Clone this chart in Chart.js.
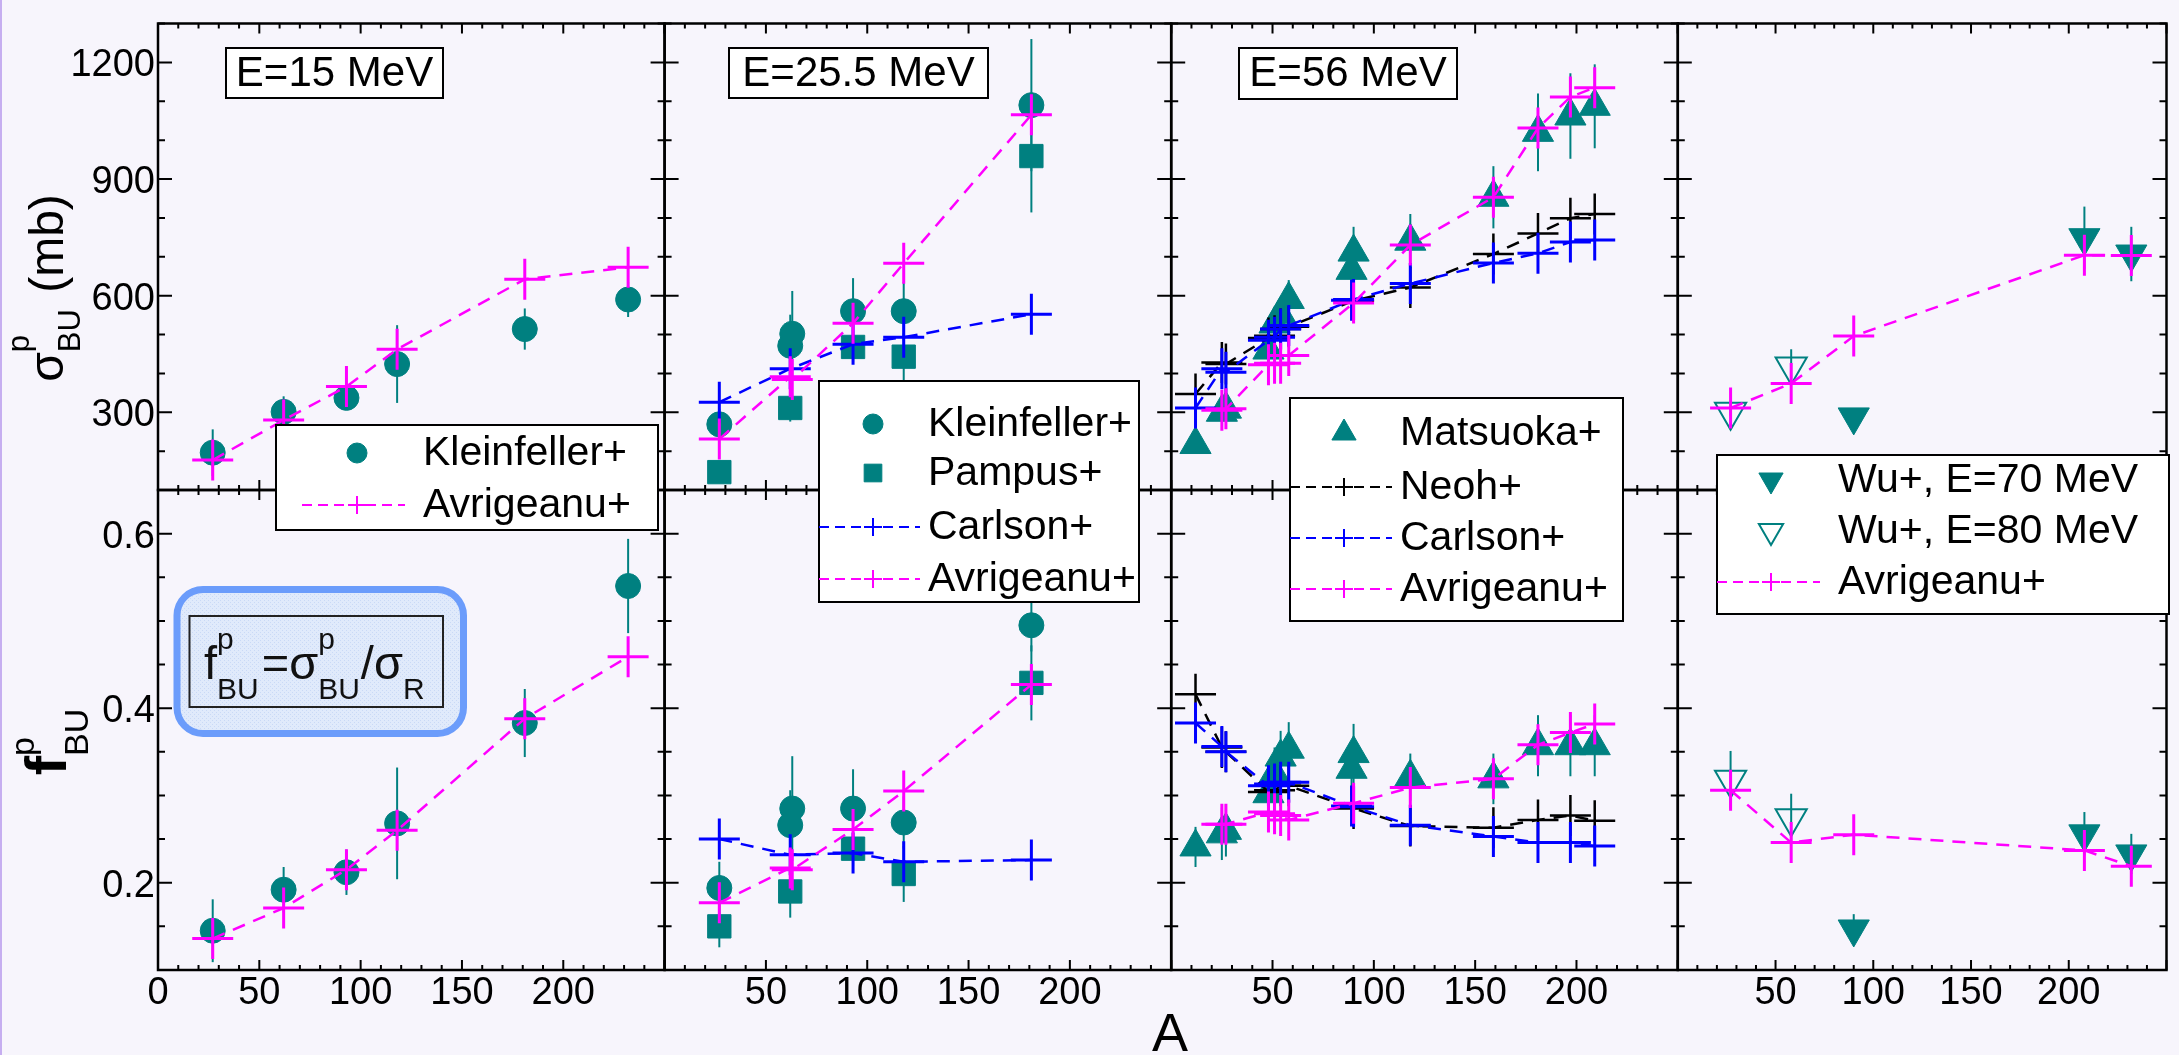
<!DOCTYPE html>
<html>
<head>
<meta charset="utf-8">
<title>Proton breakup cross sections</title>
<script src="https://cdn.jsdelivr.net/npm/chart.js@4.4.1/dist/chart.umd.min.js"></script>
<style>
  html, body { margin: 0; padding: 0; background: #f7f5fc; overflow: hidden; }
  #wrap { position: relative; width: 2190px; height: 1055px; }
  #wrap canvas { position: absolute; left: 0; top: 0; }
  #edge { position: absolute; left: 0; top: 0; width: 2px; height: 1055px; background: #c6aef0; }
</style>
</head>
<body>
<div id="wrap">
  <canvas id="c5" width="2190" height="1055"></canvas>
  <canvas id="c6" width="2190" height="1055"></canvas>
  <canvas id="c7" width="2190" height="1055"></canvas>
  <canvas id="c8" width="2190" height="1055"></canvas>
  <canvas id="c1" width="2190" height="1055"></canvas>
  <canvas id="c2" width="2190" height="1055"></canvas>
  <canvas id="c3" width="2190" height="1055"></canvas>
  <canvas id="c4" width="2190" height="1055"></canvas>
  <div id="edge"></div>
</div>
<script>
// mass number A, breakup cross section sigma (mb) and breakup fraction f

// E = 15 MeV
const aKlein15 = [27, 62, 93, 118, 181, 232];
const sigKlein15 = [196, 301, 337, 424, 514, 590];
const sigKlein15Err = [60, 40, 30, 100, 53, 45];
const fKlein15 = [0.145, 0.192, 0.212, 0.268, 0.383, 0.540];
const fKlein15Err = [0.036, 0.026, 0.026, 0.064, 0.039, 0.054];
const aAvr15 = [27, 62, 93, 118, 181, 232];
const sigAvr15 = [177, 280, 366, 462, 642, 673];
const fAvr15 = [0.136, 0.171, 0.215, 0.260, 0.388, 0.459];

// E = 25.5 MeV
const aKlein25 = [27, 62, 63, 93, 118, 181];
const sigKlein25 = [269, 471, 502, 560, 560, 1090];
const sigKlein25Err = [40, 80, 110, 85, 75, 170];
const fKlein25 = [0.194, 0.266, 0.285, 0.285, 0.269, 0.495];
const fKlein25Err = [0.03, 0.04, 0.06, 0.045, 0.03, 0.03];
const aPamp25 = [27, 62, 93, 118, 181];
const sigPamp25 = [146, 311, 468, 443, 959];
const sigPamp25Err = [20, 35, 40, 60, 145];
const fPamp25 = [0.150, 0.190, 0.239, 0.210, 0.429];
const fPamp25Err = [0.024, 0.03, 0.02, 0.032, 0.043];
const aCarl25 = [27, 62, 93, 118, 181];
const sigCarl25 = [326, 412, 475, 493, 552];
const fCarl25 = [0.250, 0.232, 0.234, 0.224, 0.226];
const aAvr25 = [27, 62, 63, 93, 118, 181];
const sigAvr25 = [231, 391, 384, 529, 683, 1065];
const fAvr25 = [0.177, 0.217, 0.215, 0.261, 0.305, 0.427];

// E = 56 MeV
const aMats56 = [12, 25, 27, 48, 51, 54, 58, 89, 90, 118, 159, 181, 197, 209];
const sigMats56 = [217, 300, 308, 460, 527, 552, 590, 665, 712, 740, 853, 1020, 1062, 1087];
const sigMats56Err = [15, 25, 25, 25, 30, 40, 50, 55, 65, 70, 80, 100, 110, 108];
const fMats56 = [0.241, 0.256, 0.260, 0.302, 0.325, 0.344, 0.353, 0.330, 0.348, 0.321, 0.319, 0.357, 0.357, 0.357];
const fMats56Err = [0.023, 0.03, 0.03, 0.025, 0.03, 0.03, 0.031, 0.03, 0.034, 0.027, 0.029, 0.035, 0.035, 0.035];
const aNeoh56 = [12, 25, 27, 48, 51, 54, 58, 90, 118, 159, 181, 197, 209];
const sigNeoh56 = [347, 428, 424, 491, 497, 514, 520, 587, 621, 707, 760, 799, 810];
const fNeoh56 = [0.416, 0.355, 0.350, 0.304, 0.306, 0.311, 0.311, 0.285, 0.265, 0.263, 0.272, 0.277, 0.271];
const aCarl56 = [12, 25, 27, 48, 51, 54, 58, 89, 90, 118, 159, 181, 197, 209];
const sigCarl56 = [311, 412, 403, 485, 493, 514, 523, 588, 590, 631, 684, 709, 738, 743];
const fCarl56 = [0.383, 0.356, 0.350, 0.311, 0.313, 0.315, 0.315, 0.288, 0.287, 0.266, 0.253, 0.246, 0.246, 0.242];
const aAvr56 = [25, 27, 48, 51, 54, 58, 90, 118, 159, 181, 197, 209];
const sigAvr56 = [305, 309, 422, 426, 426, 446, 581, 730, 853, 1031, 1111, 1135];
const fAvr56 = [0.267, 0.267, 0.281, 0.279, 0.277, 0.272, 0.291, 0.309, 0.319, 0.358, 0.372, 0.382];

// E = 70 / 80 MeV
const aWu70 = [90, 208, 232];
const sigWu70 = [288, 749, 707];
const sigWu70Err = [12, 80, 70];
const fWu70 = [0.147, 0.256, 0.233];
const fWu70Err = [0.017, 0.025, 0.023];
const aWu80 = [27, 58];
const sigWu80 = [301, 418];
const sigWu80Err = [10, 44];
const fWu80 = [0.318, 0.274];
const fWu80Err = [0.033, 0.028];
const aAvr70 = [27, 58, 90, 208, 232];
const sigAvr70 = [311, 374, 496, 704, 703];
const fAvr70 = [0.306, 0.246, 0.255, 0.237, 0.219];

// tick labels
const aTicksFirst = [0, 50, 100, 150, 200];
const aTicksRest = [50, 100, 150, 200];
const sigTicks = [300, 600, 900, 1200];
const fTicks = [0.2, 0.4, 0.6];

const TEAL = '#008080', MAGENTA = '#ff00ff', BLUE = '#0000ff', BLACK = '#000000';
const FONT = '"Liberation Sans", Arial, Helvetica, sans-serif';
const W = 2190, H = 1055;
const colLeft = [158, 664.6, 1171.2, 1677.8];
const colWidth = 506.6;
const rowTop = [12, 490];
const rowBottom = [490, 970];

const zip = (xs, ys) => xs.map((x, i) => ({ x: x, y: ys[i] }));

function expSet(label, a, v, err, style, radius, rotation, hollow) {
  return {
    label: label, data: zip(a, v), errorBars: err,
    showLine: false, order: 5, clip: false,
    pointStyle: style, pointRadius: radius, pointRotation: rotation || 0,
    pointBackgroundColor: hollow ? 'rgba(0,0,0,0)' : TEAL,
    pointBorderColor: TEAL, pointBorderWidth: hollow ? 2 : 1
  };
}
function calcSet(label, a, v, color, order, lw) {
  return {
    label: label, data: zip(a, v),
    showLine: true, order: order, clip: false, tension: 0,
    borderColor: color, borderWidth: 2.5, borderDash: [13, 9],
    pointStyle: 'cross', pointRadius: 20.5, pointRotation: 0,
    pointBackgroundColor: color, pointBorderColor: color, pointBorderWidth: lw
  };
}

// generic marker for the legend
function marker(ctx, style, x, y, r, rot, fill, stroke, lw) {
  ctx.save();
  ctx.translate(x, y);
  ctx.rotate((rot || 0) * Math.PI / 180);
  ctx.beginPath();
  if (style === 'circle') {
    ctx.arc(0, 0, r, 0, 2 * Math.PI);
  } else if (style === 'rect') {
    const s = r * Math.SQRT1_2;
    ctx.rect(-s, -s, 2 * s, 2 * s);
  } else if (style === 'triangle') {
    ctx.moveTo(0, -r);
    ctx.lineTo(r * Math.sin(2 * Math.PI / 3), -r * Math.cos(2 * Math.PI / 3));
    ctx.lineTo(r * Math.sin(4 * Math.PI / 3), -r * Math.cos(4 * Math.PI / 3));
    ctx.closePath();
  } else {
    ctx.moveTo(-r, 0); ctx.lineTo(r, 0);
    ctx.moveTo(0, -r); ctx.lineTo(0, r);
  }
  if (style !== 'cross' && fill) { ctx.fillStyle = fill; ctx.fill(); }
  ctx.strokeStyle = stroke; ctx.lineWidth = lw; ctx.stroke();
  ctx.restore();
}

// text with stacked super/subscripts
function richWidth(ctx, parts) {
  let w = 0;
  parts.forEach(p => {
    ctx.font = p.font;
    if (p.t) w += ctx.measureText(p.t).width;
    else w += Math.max(p.sup ? ctx.measureText(p.sup).width : 0, p.sub ? ctx.measureText(p.sub).width : 0) + (p.gap || 0);
  });
  return w;
}
function drawRich(ctx, x, y, parts) {
  let cx = x;
  ctx.textAlign = 'left';
  ctx.textBaseline = 'alphabetic';
  parts.forEach(p => {
    ctx.font = p.font;
    if (p.t) {
      ctx.fillText(p.t, cx, y);
      cx += ctx.measureText(p.t).width;
    } else {
      const w1 = p.sup ? ctx.measureText(p.sup).width : 0;
      const w2 = p.sub ? ctx.measureText(p.sub).width : 0;
      if (p.sup) ctx.fillText(p.sup, cx + (p.supX || 0), y + p.supDy);
      if (p.sub) ctx.fillText(p.sub, cx, y + p.subDy);
      cx += Math.max(w1, w2) + (p.gap || 0);
    }
  });
}

function energyBox(ctx, text, x1, y1, x2, y2) {
  ctx.fillStyle = '#ffffff';
  ctx.fillRect(x1, y1, x2 - x1, y2 - y1);
  ctx.strokeStyle = BLACK; ctx.lineWidth = 2;
  ctx.strokeRect(x1, y1, x2 - x1, y2 - y1);
  ctx.fillStyle = BLACK;
  ctx.font = '42px ' + FONT;
  ctx.textAlign = 'center'; ctx.textBaseline = 'middle';
  ctx.fillText(text, (x1 + x2) / 2, (y1 + y2) / 2 + 1);
}

function drawLegend(ctx, chart, L) {
  const [x1, y1, x2, y2] = L.box;
  ctx.fillStyle = '#ffffff';
  ctx.fillRect(x1, y1, x2 - x1, y2 - y1);
  ctx.strokeStyle = BLACK; ctx.lineWidth = 2;
  ctx.strokeRect(x1, y1, x2 - x1, y2 - y1);
  const legendR = { circle: 10, rect: 12.5, triangle: 14, cross: 9 };
  chart.data.datasets.forEach((ds, k) => {
    const y = L.rows[k];
    if (ds.showLine) {
      ctx.save();
      ctx.strokeStyle = ds.borderColor; ctx.lineWidth = 2;
      ctx.setLineDash([10, 6]);
      ctx.beginPath(); ctx.moveTo(L.line[0], y); ctx.lineTo(L.line[1], y); ctx.stroke();
      ctx.restore();
    }
    marker(ctx, ds.pointStyle, L.symX, y, legendR[ds.pointStyle], ds.pointRotation,
      ds.pointBackgroundColor, ds.pointBorderColor, ds.pointStyle === 'cross' ? 2 : (ds.pointBorderWidth || 1));
    ctx.fillStyle = BLACK;
    ctx.font = '41px ' + FONT;
    ctx.textAlign = 'left'; ctx.textBaseline = 'middle';
    ctx.fillText(ds.label, L.textX, y + 1);
  });
}

function dotPattern(ctx) {
  const c = document.createElement('canvas');
  c.width = 4; c.height = 4;
  const g = c.getContext('2d');
  g.fillStyle = '#e0eafb'; g.fillRect(0, 0, 4, 4);
  g.fillStyle = '#c9d9f6'; g.fillRect(0, 0, 1, 1); g.fillRect(2, 2, 1, 1);
  return ctx.createPattern(c, 'repeat');
}

function roundRect(ctx, x, y, w, h, r) {
  ctx.beginPath();
  ctx.moveTo(x + r, y);
  ctx.arcTo(x + w, y, x + w, y + h, r);
  ctx.arcTo(x + w, y + h, x, y + h, r);
  ctx.arcTo(x, y + h, x, y, r);
  ctx.arcTo(x, y, x + w, y, r);
  ctx.closePath();
}

// per-canvas decorations: tick labels, legends, titles
const panelExtras = {
  c1: {
    yLabels: sigTicks,
    legend: { box: [276, 425, 658, 530], symX: 357, line: [302, 405], textX: 423, rows: [453, 505] },
    draw(ctx) {
      energyBox(ctx, 'E=15 MeV', 226, 48, 443, 98);
      ctx.save();
      ctx.fillStyle = BLACK;
      ctx.translate(63, 288);
      ctx.rotate(-Math.PI / 2);
      const parts = [
        { t: '\u03c3', font: '48px ' + FONT },
        { sup: 'p', sub: 'BU', font: '31px ' + FONT, supDy: -34, subDy: 17, gap: 3 },
        { t: ' (mb)', font: '48px ' + FONT }
      ];
      drawRich(ctx, -richWidth(ctx, parts) / 2, 0, parts);
      ctx.restore();
    }
  },
  c2: {
    legend: { box: [819, 381, 1139, 602], symX: 873, line: [819, 920], textX: 928, rows: [424, 473, 527, 579] },
    draw(ctx) { energyBox(ctx, 'E=25.5 MeV', 729, 48, 988, 98); }
  },
  c3: {
    legend: { box: [1290, 398, 1623, 621], symX: 1344, line: [1290, 1392], textX: 1400, rows: [433, 487, 538, 589] },
    draw(ctx) { energyBox(ctx, 'E=56 MeV', 1239, 48, 1457, 99); }
  },
  c4: {
    legend: { box: [1717, 455, 2169, 614], symX: 1771, line: [1717, 1820], textX: 1838, rows: [480, 531, 582] }
  },
  c5: {
    xLabels: aTicksFirst, yLabels: fTicks,
    draw(ctx) {
      ctx.save();
      ctx.fillStyle = BLACK;
      ctx.translate(66, 742);
      ctx.rotate(-Math.PI / 2);
      const parts = [
        { t: 'f', font: 'bold 58px ' + FONT },
        { sup: 'p', sub: 'BU', font: '34px ' + FONT, supDy: -32, subDy: 22 }
      ];
      drawRich(ctx, -richWidth(ctx, parts) / 2, 0, parts);
      ctx.restore();

      // ratio definition box
      const pat = dotPattern(ctx);
      roundRect(ctx, 177, 589.5, 286.5, 144, 26);
      ctx.fillStyle = pat; ctx.fill();
      ctx.strokeStyle = '#6b9cfb'; ctx.lineWidth = 7; ctx.stroke();
      ctx.fillStyle = pat;
      ctx.fillRect(189.5, 616, 253.5, 91);
      ctx.strokeStyle = '#222222'; ctx.lineWidth = 2;
      ctx.strokeRect(189.5, 616, 253.5, 91);
      ctx.fillStyle = '#111111';
      const sub = '30px ' + FONT, main = '47px ' + FONT;
      drawRich(ctx, 204, 679, [
        { t: 'f', font: main },
        { sup: 'p', sub: 'BU', font: sub, supDy: -30, subDy: 20, gap: 3 },
        { t: '=\u03c3', font: main },
        { sup: 'p', sub: 'BU', font: sub, supDy: -30, subDy: 20, gap: 1 },
        { t: '/\u03c3', font: main },
        { sub: 'R', font: sub, subDy: 20 }
      ]);
    }
  },
  c6: {
    xLabels: aTicksRest,
    draw(ctx) {
      ctx.fillStyle = BLACK;
      ctx.font = '54px ' + FONT;
      ctx.textAlign = 'center'; ctx.textBaseline = 'alphabetic';
      ctx.fillText('A', 1170, 1051);
    }
  },
  c7: { xLabels: aTicksRest },
  c8: { xLabels: aTicksRest }
};

const isMultiple = (v, step) => Math.abs(v / step - Math.round(v / step)) < 1e-6;

const panelPlugin = {
  id: 'panel',
  beforeDatasetsDraw(chart) {
    const ctx = chart.ctx, xs = chart.scales.x, ys = chart.scales.y;
    ctx.save();
    ctx.strokeStyle = TEAL; ctx.lineWidth = 2;
    chart.data.datasets.forEach(ds => {
      if (!ds.errorBars) return;
      ds.data.forEach((p, i) => {
        const e = ds.errorBars[i];
        if (!e) return;
        const px = xs.getPixelForValue(p.x);
        ctx.beginPath();
        ctx.moveTo(px, ys.getPixelForValue(p.y - e));
        ctx.lineTo(px, ys.getPixelForValue(p.y + e));
        ctx.stroke();
      });
    });
    ctx.restore();
  },
  afterDraw(chart) {
    const ctx = chart.ctx, area = chart.chartArea, xs = chart.scales.x, ys = chart.scales.y;
    const ex = panelExtras[chart.canvas.id] || {};
    const top = ys.max > 10;
    const yMinor = top ? 100 : 0.05, yMajor = top ? 300 : 0.2;
    ctx.save();
    ctx.setLineDash([]);
    ctx.strokeStyle = BLACK;
    ctx.lineWidth = 2.5;
    ctx.strokeRect(area.left, area.top, area.right - area.left, area.bottom - area.top);

    // inward ticks on all four sides
    ctx.lineWidth = 2;
    ctx.beginPath();
    for (let v = xs.min; v <= xs.max + 1e-9; v += 10) {
      const px = xs.getPixelForValue(v);
      const len = isMultiple(v, 50) ? 10 : 5;
      ctx.moveTo(px, area.bottom); ctx.lineTo(px, area.bottom - len);
      ctx.moveTo(px, area.top); ctx.lineTo(px, area.top + len);
    }
    const nY = Math.round((ys.max - ys.min) / yMinor);
    for (let k = 0; k <= nY; k++) {
      const v = ys.min + k * yMinor;
      const py = ys.getPixelForValue(v);
      const len = isMultiple(v, yMajor) ? 14 : 7;
      ctx.moveTo(area.left, py); ctx.lineTo(area.left + len, py);
      ctx.moveTo(area.right, py); ctx.lineTo(area.right - len, py);
    }
    ctx.stroke();

    ctx.fillStyle = BLACK;
    ctx.font = '38px ' + FONT;
    ctx.textBaseline = 'alphabetic';
    if (ex.xLabels) {
      ctx.textAlign = 'center';
      ex.xLabels.forEach(v => ctx.fillText(String(v), xs.getPixelForValue(v), area.bottom + 34));
    }
    if (ex.yLabels) {
      ctx.textAlign = 'right';
      ex.yLabels.forEach(v => ctx.fillText(String(v), area.left - 3, ys.getPixelForValue(v) + 14));
    }
    if (ex.draw) { ctx.save(); ex.draw(ctx, chart); ctx.restore(); }
    if (ex.legend) drawLegend(ctx, chart, ex.legend);
    ctx.restore();
  }
};

function makePanel(id, col, row, datasets) {
  const left = colLeft[col], right = left + colWidth;
  return new Chart(document.getElementById(id), {
    type: 'scatter',
    data: { datasets: datasets },
    options: {
      responsive: false, animation: false, devicePixelRatio: 1, events: [],
      layout: { padding: { left: left, top: rowTop[row], right: W - right, bottom: H - rowBottom[row] } },
      scales: {
        x: { type: 'linear', min: 0, max: 250, display: false },
        y: { type: 'linear', min: row === 0 ? 100 : 0.1, max: row === 0 ? 1300 : 0.65, display: false }
      },
      plugins: { legend: { display: false }, tooltip: { enabled: false } }
    },
    plugins: [panelPlugin]
  });
}

// bottom row: breakup fraction
makePanel('c5', 0, 1, [
  expSet('Kleinfeller+', aKlein15, fKlein15, fKlein15Err, 'circle', 12.5),
  calcSet('Avrigeanu+', aAvr15, fAvr15, MAGENTA, 0, 3)
]);
makePanel('c6', 1, 1, [
  expSet('Kleinfeller+', aKlein25, fKlein25, fKlein25Err, 'circle', 12.5),
  expSet('Pampus+', aPamp25, fPamp25, fPamp25Err, 'rect', 16.5),
  calcSet('Carlson+', aCarl25, fCarl25, BLUE, 1, 3),
  calcSet('Avrigeanu+', aAvr25, fAvr25, MAGENTA, 0, 3)
]);
makePanel('c7', 2, 1, [
  expSet('Matsuoka+', aMats56, fMats56, fMats56Err, 'triangle', 18),
  calcSet('Neoh+', aNeoh56, fNeoh56, BLACK, 2, 2.5),
  calcSet('Carlson+', aCarl56, fCarl56, BLUE, 1, 3),
  calcSet('Avrigeanu+', aAvr56, fAvr56, MAGENTA, 0, 3)
]);
makePanel('c8', 3, 1, [
  expSet('Wu+, E=70 MeV', aWu70, fWu70, fWu70Err, 'triangle', 18, 180),
  expSet('Wu+, E=80 MeV', aWu80, fWu80, fWu80Err, 'triangle', 18, 180, true),
  calcSet('Avrigeanu+', aAvr70, fAvr70, MAGENTA, 0, 3)
]);

// top row: breakup cross section
makePanel('c1', 0, 0, [
  expSet('Kleinfeller+', aKlein15, sigKlein15, sigKlein15Err, 'circle', 12.5),
  calcSet('Avrigeanu+', aAvr15, sigAvr15, MAGENTA, 0, 3)
]);
makePanel('c2', 1, 0, [
  expSet('Kleinfeller+', aKlein25, sigKlein25, sigKlein25Err, 'circle', 12.5),
  expSet('Pampus+', aPamp25, sigPamp25, sigPamp25Err, 'rect', 16.5),
  calcSet('Carlson+', aCarl25, sigCarl25, BLUE, 1, 3),
  calcSet('Avrigeanu+', aAvr25, sigAvr25, MAGENTA, 0, 3)
]);
makePanel('c3', 2, 0, [
  expSet('Matsuoka+', aMats56, sigMats56, sigMats56Err, 'triangle', 18),
  calcSet('Neoh+', aNeoh56, sigNeoh56, BLACK, 2, 2.5),
  calcSet('Carlson+', aCarl56, sigCarl56, BLUE, 1, 3),
  calcSet('Avrigeanu+', aAvr56, sigAvr56, MAGENTA, 0, 3)
]);
makePanel('c4', 3, 0, [
  expSet('Wu+, E=70 MeV', aWu70, sigWu70, sigWu70Err, 'triangle', 18, 180),
  expSet('Wu+, E=80 MeV', aWu80, sigWu80, sigWu80Err, 'triangle', 18, 180, true),
  calcSet('Avrigeanu+', aAvr70, sigAvr70, MAGENTA, 0, 3)
]);
</script>
</body>
</html>
